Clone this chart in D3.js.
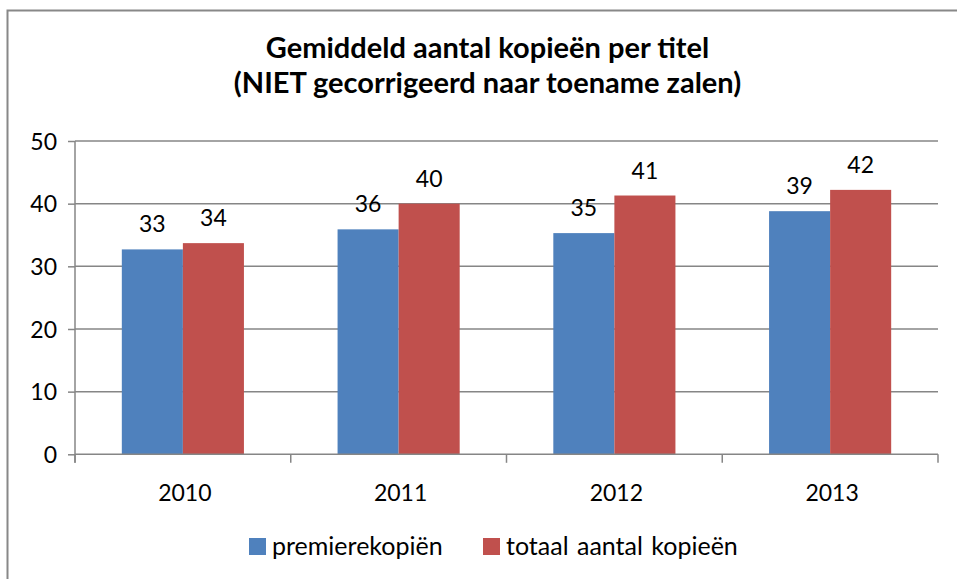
<!DOCTYPE html>
<html>
<head>
<meta charset="utf-8">
<script src="https://cdn.jsdelivr.net/npm/d3@7"></script>
<style>
  html, body { margin: 0; padding: 0; background: #fff; }
  svg { display: block; font-family: Lato, "Open Sans", sans-serif; }
</style>
</head>
<body>
<svg id="chart" width="957" height="579"></svg>
<script>
const titleLines = ["Gemiddeld aantal kopieën per titel", "(NIET gecorrigeerd naar toename zalen)"];
const categories = ["2010", "2011", "2012", "2013"];
const seriesNames = ["premierekopiën", "totaal aantal kopieën"];
const premiereValues = [32.7, 35.9, 35.3, 38.8];
const totaalValues = [33.7, 40.0, 41.3, 42.2];
const yTicks = [0, 10, 20, 30, 40, 50];
const colors = ["#4F81BD", "#C0504D"];

const seriesValues = [premiereValues, totaalValues];
const svg = d3.select("#chart");

// chart border (extends beyond the visible area on right/bottom)
svg.append("rect")
  .attr("x", 7.5).attr("y", 10.5)
  .attr("width", 1000).attr("height", 1000)
  .attr("fill", "none").attr("stroke", "#888").attr("stroke-width", 2);

const plotLeft = 75, plotRight = 938, plotTop = 141, plotBottom = 454.3;

const y = d3.scaleLinear().domain([0, 50]).range([plotBottom, plotTop]);
const p = 0.434;
const x0 = d3.scaleBand().domain(categories).range([plotLeft, plotRight])
  .paddingInner(p).paddingOuter(p / 2);
const x1 = d3.scaleBand().domain(d3.range(seriesNames.length)).range([0, x0.bandwidth()]);

// title
svg.append("g").selectAll("text").data(titleLines).join("text")
  .attr("x", 487.5)
  .attr("y", (d, i) => 58 + i * 35)
  .attr("text-anchor", "middle")
  .attr("font-weight", "bold")
  .attr("font-size", 29)
  .attr("fill", "#000")
  .text(d => d);

// gridlines
svg.append("g").selectAll("line").data(yTicks.filter(t => t > 0)).join("line")
  .attr("x1", plotLeft).attr("x2", plotRight)
  .attr("y1", d => y(d)).attr("y2", d => y(d))
  .attr("stroke", "#868686").attr("stroke-width", 1.5);

// y axis
const yAxis = d3.axisLeft(y).tickValues(yTicks).tickSize(7).tickPadding(11);
const gy = svg.append("g").attr("transform", `translate(${plotLeft},0)`).call(yAxis);
gy.select(".domain").remove();
gy.selectAll(".tick line").attr("stroke", "#868686").attr("stroke-width", 1.5);
gy.selectAll(".tick text").attr("font-size", 23).attr("fill", "#000")
  .attr("font-family", "Lato, sans-serif").attr("dy", "0.36em");
svg.append("line")
  .attr("x1", plotLeft).attr("x2", plotLeft)
  .attr("y1", plotTop).attr("y2", plotBottom + 8.5)
  .attr("stroke", "#868686").attr("stroke-width", 1.5);

// bars
const groups = svg.append("g").selectAll("g").data(categories).join("g")
  .attr("transform", d => `translate(${x0(d)},0)`);
groups.selectAll("rect")
  .data((c, ci) => seriesValues.map((vals, si) => ({ si, v: vals[ci] })))
  .join("rect")
  .attr("x", d => x1(d.si))
  .attr("width", x1.bandwidth())
  .attr("y", d => y(d.v))
  .attr("height", d => y(0) - y(d.v))
  .attr("fill", d => colors[d.si]);

// data labels
groups.selectAll("text")
  .data((c, ci) => seriesValues.map((vals, si) => ({ si, v: vals[ci] })))
  .join("text")
  .attr("x", d => x1(d.si) + x1.bandwidth() / 2)
  .attr("y", d => y(d.v) - 17)
  .attr("text-anchor", "middle")
  .attr("font-size", 23)
  .attr("fill", "#000")
  .text(d => d3.format(".0f")(d.v));

// x axis
svg.append("line")
  .attr("x1", plotLeft).attr("x2", plotRight)
  .attr("y1", plotBottom).attr("y2", plotBottom)
  .attr("stroke", "#868686").attr("stroke-width", 1.5);
const step = x0.step();
const boundaries = d3.range(categories.length + 1).map(i => plotLeft + i * step);
svg.append("g").selectAll("line").data(boundaries).join("line")
  .attr("x1", d => d).attr("x2", d => d)
  .attr("y1", plotBottom).attr("y2", plotBottom + 8.5)
  .attr("stroke", "#868686").attr("stroke-width", 1.5);
svg.append("g").selectAll("text").data(categories).join("text")
  .attr("x", d => x0(d) + x0.bandwidth() / 2 + 2)
  .attr("y", 501)
  .attr("text-anchor", "middle")
  .attr("font-size", 23)
  .attr("fill", "#000")
  .text(d => d);

// legend
const legendX = [249, 483];
const lg = svg.append("g").selectAll("g").data(seriesNames).join("g")
  .attr("transform", (d, i) => `translate(${legendX[i]},538)`);
lg.append("rect").attr("width", 17).attr("height", 17).attr("fill", (d, i) => colors[i]);
lg.append("text")
  .attr("x", 23).attr("y", 17)
  .attr("font-size", 25)
  .attr("fill", "#000")
  .attr("word-spacing", 2)
  .text(d => d);
</script>
</body>
</html>
